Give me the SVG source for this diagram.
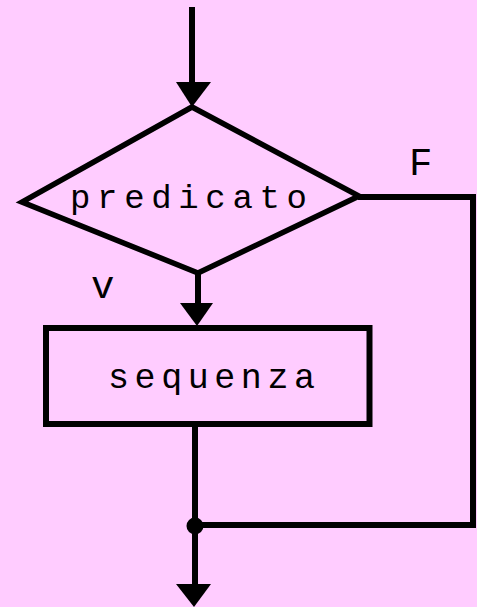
<svg xmlns="http://www.w3.org/2000/svg" width="477" height="607" viewBox="0 0 477 607">
<style>
.ln{stroke:#000;stroke-width:6;fill:none}
.sh{stroke:#000;stroke-width:5.5;fill:none;stroke-linejoin:miter}
.ah{fill:#000}
.t{font-family:"Liberation Mono","DejaVu Sans Mono",monospace;fill:#000}
</style>
<rect x="0" y="0" width="477" height="607" fill="#FFCCFF"/>
<g id="connectors">
<line class="ln" x1="192" y1="7" x2="192" y2="84"/>
<polygon class="ah" points="176,82 211,82 192,107"/>
<line class="ln" x1="198" y1="273" x2="198" y2="305"/>
<polygon class="ah" points="180,303 213,303 197,326"/>
<line class="ln" x1="195" y1="427" x2="195" y2="586"/>
<polygon class="ah" points="176,584 211,584 194,607"/>
<polyline class="ln" points="358,197 473,197 473,525 195,525"/>
<circle cx="195" cy="526" r="8.5" fill="#000"/>
<text class="t" x="409" y="175" font-size="39">F</text>
<text class="t" x="91" y="298" font-size="39">v</text>
</g>
<g id="decision">
<polygon class="sh" points="192,107 359,196 198,273 22,202"/>
<text class="t" x="70" y="208" font-size="34" textLength="237" lengthAdjust="spacing">predicato</text>
</g>
<g id="process">
<rect class="ln" x="46" y="328" width="323.5" height="96"/>
<text class="t" x="108" y="388" font-size="35" textLength="207" lengthAdjust="spacing">sequenza</text>
</g>
</svg>
